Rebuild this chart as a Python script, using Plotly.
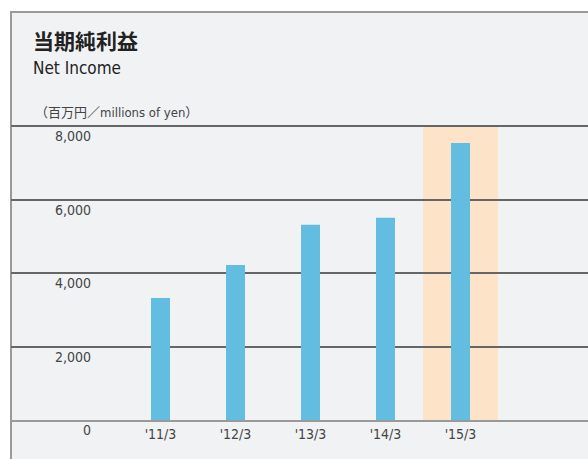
import plotly.graph_objects as go

categories = ["'11/3", "'12/3", "'13/3", "'14/3", "'15/3"]
net_income = [3320, 4220, 5310, 5500, 7540]
y_ticks = [0, 2000, 4000, 6000, 8000]
y_tick_labels = ["0", "2,000", "4,000", "6,000", "8,000"]
highlight_index = 4

W, H = 588, 459
ML, MR, MT, MB = 11, 0, 100, 39
pw = W - ML - MR
ph = H - MT - MB
NARROW = "DejaVu Sans Condensed, Roboto, Liberation Sans"

def px_to_paper_x(px):
    return (px - ML) / pw

def px_to_paper_y(py):
    return (H - MB - py) / ph

xs = list(range(len(categories)))

fig = go.Figure()
fig.add_trace(go.Bar(x=xs, y=net_income, width=0.253, marker=dict(color="#63bde0", line=dict(width=0)),
                     hoverinfo="skip"))

# frame / background
fig.add_shape(type="rect", xref="paper", yref="paper", x0=0, x1=1.2,
              y0=-0.3, y1=px_to_paper_y(12), fillcolor="#f1f2f4",
              line=dict(color="#9a9a9a", width=2), layer="below")
# highlight band
fig.add_shape(type="rect", xref="x", yref="y", x0=highlight_index - 0.5, x1=highlight_index + 0.5,
              y0=0, y1=y_ticks[-1], fillcolor="#fde4c9", line=dict(width=0), layer="below")

# y tick labels (below their grid lines)
for v, t in zip(y_ticks, y_tick_labels):
    fig.add_annotation(x=px_to_paper_x(93), xref="paper", y=v, yref="y", text=t, showarrow=False,
                       xanchor="right", yanchor="middle", yshift=-10,
                       font=dict(family=NARROW, size=14, color="#444"))

fig.add_annotation(x=px_to_paper_x(31), xref="paper", y=px_to_paper_y(40), yref="paper",
                   text="<b>当期純利益</b>", showarrow=False, xanchor="left", yanchor="middle",
                   font=dict(family="Noto Sans CJK JP", size=21, color="#222"))
fig.add_annotation(x=px_to_paper_x(31), xref="paper", y=px_to_paper_y(68), yref="paper",
                   text="Net Income", showarrow=False, xanchor="left", yanchor="middle",
                   font=dict(family=NARROW, size=17, color="#222"))
fig.add_annotation(x=px_to_paper_x(33), xref="paper", y=px_to_paper_y(111), yref="paper",
                   text="（百万円／<span style='font-family:\"DejaVu Sans Condensed\", Roboto'>millions of yen</span>）",
                   showarrow=False, xanchor="left", yanchor="middle",
                   font=dict(family="Noto Sans CJK JP", size=13, color="#444"))

x_left = (ML - 160.5) / 75
x_right = (W - MR - 160.5) / 75
y_top = y_ticks[-1] * ph / 294

fig.update_layout(
    width=W, height=H,
    margin=dict(l=ML, r=MR, t=MT, b=MB),
    paper_bgcolor="white", plot_bgcolor="rgba(0,0,0,0)",
    showlegend=False,
    xaxis=dict(range=[x_left, x_right], tickvals=xs, ticktext=categories, showgrid=False,
               zeroline=False, showline=True, linecolor="#9a9a9a", linewidth=2, ticks="",
               tickfont=dict(family=NARROW, size=14, color="#444"),
               fixedrange=True),
    yaxis=dict(range=[0, y_top], tickvals=y_ticks[1:], showticklabels=False, showgrid=True,
               gridcolor="#666666", gridwidth=1.5, zeroline=False, showline=False, fixedrange=True),
)

fig.write_html("out.html", config={"displayModeBar": False},
               post_script="document.body.style.margin='0';document.body.style.padding='0';")
